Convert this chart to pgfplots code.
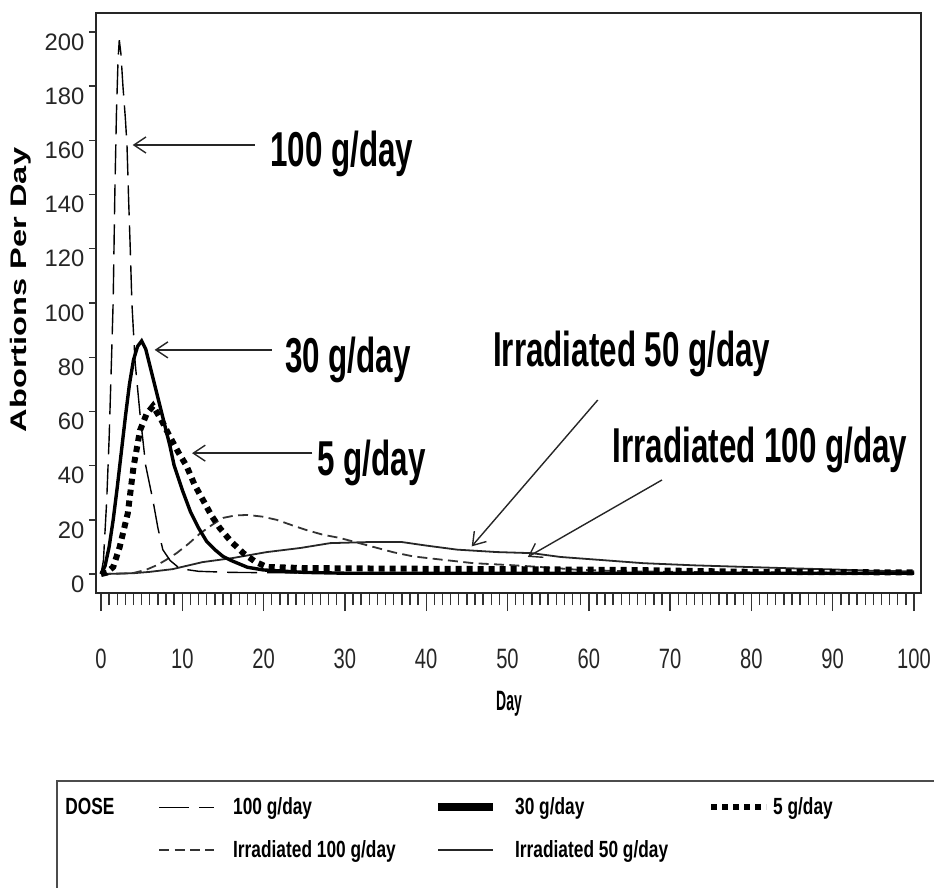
\documentclass[border=0pt]{standalone}
\usepackage{fontspec}
\setmainfont{Liberation Sans}
\newfontfamily\annfont[FakeStretch=0.64]{Liberation Sans}
\newfontfamily\legfont[FakeStretch=0.74]{Liberation Sans}
\newfontfamily\yfont{Liberation Sans}
\newfontfamily\xfont[FakeStretch=0.72]{Liberation Sans}
\usepackage{pgfplots}
\pgfplotsset{compat=1.18}
\usetikzlibrary{arrows.meta}

\pgfplotsset{
  s100/.style={black, line width=0.7pt, dash pattern=on 15pt off 5pt},
  s30/.style={black, line width=1.7pt},
  s5/.style={black, line width=3pt, dash pattern=on 3pt off 2.5pt},
  si100/.style={black!80, line width=0.9pt, dash pattern=on 5pt off 2.7pt},
  si50/.style={black!85, line width=0.9pt},
}
\tikzset{ann/.style={-{Straight Barb[length=6pt,width=8pt]}, line width=0.7pt, black!85},
  anntext/.style={anchor=base west, inner sep=0pt, font=\annfont\bfseries\fontsize{24.5}{24.5}\selectfont}}
\newcommand{\lw}[2]{\makebox[#1][l]{#2}}

\pgfplotstableread{
x y
0 0
0.3 5
0.7 27
1.0 50
1.3 80
1.5 101
1.7 140
1.9 170
2.1 190
2.25 197
2.45 192
2.7 180
3.0 168
3.2 158
3.4 138
3.6 120
3.8 100
4.2 78
4.8 59
5.5 40
6.4 27
7.0 17
7.6 9
8.5 5
9.7 2
12 1
16 0.6
25 0.4
50 0.3
100 0.2
}\dhundred

\pgfplotstableread{
x y
0 0
0.5 3
1 10
1.5 20
2 32
2.5 45
3 58
3.5 70
4 79
4.5 84
5 86
5.5 83
6 77
6.5 71
7 65
7.5 59
8 53
8.5 47
9 40
10 31
11 23
12 17
13 12
14 9
15 6.5
16 5
18 2.5
20 1.5
25 0.6
30 0.3
100 0.3
}\dthirty

\pgfplotstableread{
x y
0 0
0.7 0.5
1.5 2.6
2.3 10
3.3 22.5
4 39.5
4.8 53
5.6 59
6.4 62
7.4 57
8.5 50.5
9.5 45
10.5 40
11.5 33
12.6 27
13.6 21.5
14.6 17
16 12
17.5 7.7
19 4.5
20.4 2.6
25 2.2
35 2
50 1.8
65 1.5
80 0.8
100 0.6
}\dfive

\pgfplotstableread{
x y
0 0
2 0.1
4 0.4
5.5 1.5
6.9 3.3
8 5.2
9.3 7.7
10.7 11
12.2 15
13.6 18
15 20.7
16.5 21.6
18 21.8
19.8 21.2
21.6 20
23.5 18
25.3 16.2
27.3 14.5
29.4 13.3
31.5 11.6
33.5 10
36 8
38.4 6.5
41.3 5.5
45.8 4
50.3 3.3
54 2.6
59 1.5
65 1
75 0.7
100 0.5
}\dirrhundred

\pgfplotstableread{
x y
0 0
4 0.3
6 0.8
8.8 1.8
12.5 4.4
16.2 5.9
20.4 8.1
24.5 9.6
28.2 11.4
33 11.8
37 11.8
40 10.5
43.8 9
48.7 8.1
53 7.7
56.5 6.3
61.4 5.2
66.7 4
73 3.2
79.5 2.6
85 2.1
90 1.7
95 1.2
100 1.0
}\dirrfifty

\begin{document}
\begin{tikzpicture}
\begin{axis}[
  scale only axis,
  width=412.5pt, height=290pt,
  xmin=-0.615, xmax=100.86,
  ymin=-7, ymax=207,
  clip=false,
  axis line style={line width=0.8pt, black!85},
  xtick={0,10,...,100},
  minor x tick num=9,
  ytick={0,20,...,200},
  tick align=outside,
  xtick pos=bottom, ytick pos=left,
  xtick style={/pgfplots/major tick length=9pt, /pgfplots/minor tick length=6pt, line width=0.7pt, black!80},
  ytick style={/pgfplots/major tick length=3.5pt, line width=0.7pt, black!80},
  /pgf/number format/assume math mode=true,
  xticklabel style={font=\xfont\fontsize{14}{14}\selectfont, text=black!85, anchor=north, yshift=-20pt},
  yticklabel style={font=\yfont\fontsize{11.9}{11.9}\selectfont, text=black!85, anchor=east, yshift=-5pt, xshift=2pt},
  xlabel={\scalebox{0.5}[1]{\bfseries Day}},
  xlabel style={at={(rel axis cs:0.5006,-0.191)}, anchor=center, font=\fontsize{14}{14}\selectfont},
  ylabel={\scalebox{1}[0.69]{\bfseries Abortions Per Day}},
  ylabel style={at={(rel axis cs:-0.091,0.5224)}, anchor=center, rotate=0, font=\fontsize{16.3}{16.3}\selectfont},
  legend columns=4,
  legend image code/.code={\draw[#1] (0pt,0pt) -- (27.5pt,0pt);},
  legend style={at={(rel axis cs:-0.0376,-0.3517)}, anchor=north west, draw=none, fill=none,
    inner sep=0pt, column sep=0pt, row sep=11.5pt,
    nodes={inner sep=0pt, font=\legfont\bfseries\fontsize{11.7}{11.7}\selectfont}},
  legend cell align=left,
]
\addlegendimage{empty legend}\addlegendentry{\lw{46.5pt}{DOSE}}
\addlegendimage{s100}\addlegendentry{\lw{109.5pt}{\hspace*{9pt}100 g/day}}
\addlegendimage{black, line width=4pt}\addlegendentry{\lw{105.5pt}{\hspace*{9pt}30 g/day}}
\addlegendimage{s5}\addlegendentry{\hspace*{2pt}5 g/day}
\addlegendimage{empty legend}\addlegendentry{\lw{46.5pt}{}}
\addlegendimage{si100}\addlegendentry{\lw{109.5pt}{\hspace*{9pt}Irradiated 100 g/day}}
\addlegendimage{si50}\addlegendentry{\lw{105.5pt}{\hspace*{9pt}Irradiated 50 g/day}}

\addplot[si50, forget plot] table {\dirrfifty};
\addplot[si100, forget plot] table {\dirrhundred};
\addplot[s100, forget plot] table {\dhundred};
\addplot[s5, forget plot] table {\dfive};
\addplot[s30, forget plot] table {\dthirty};

\draw[ann] (axis cs:18.9,158.3) -- (axis cs:3.9,158.3);
\node[anntext] at (axis cs:20.8,150.2) {100 g/day};
\draw[ann] (axis cs:21,82.7) -- (axis cs:6.6,82.7);
\node[anntext] at (axis cs:22.6,74.5) {30 g/day};
\draw[ann] (axis cs:26,44.6) -- (axis cs:11.2,44.6);
\node[anntext] at (axis cs:26.6,36.5) {5 g/day};
\draw[ann] (axis cs:61.1,64.2) -- (axis cs:45.6,10.2);
\node[anntext] at (axis cs:48.2,76.4) {Irradiated 50 g/day};
\draw[ann] (axis cs:69,34.7) -- (axis cs:52.5,6.3);
\node[anntext] at (axis cs:62.9,41.3) {Irradiated 100 g/day};

\draw[black!70, line width=0.8pt] (rel axis cs:1.05,-0.3241) -- (rel axis cs:-0.0473,-0.3241) -- (rel axis cs:-0.0473,-0.6);
\coordinate (bbsw) at (rel axis cs:-0.11636,-0.50862);
\coordinate (bbne) at (rel axis cs:1.01576,1.02241);
\end{axis}
\pgfresetboundingbox
\useasboundingbox (bbsw) rectangle (bbne);
\end{tikzpicture}
\end{document}
